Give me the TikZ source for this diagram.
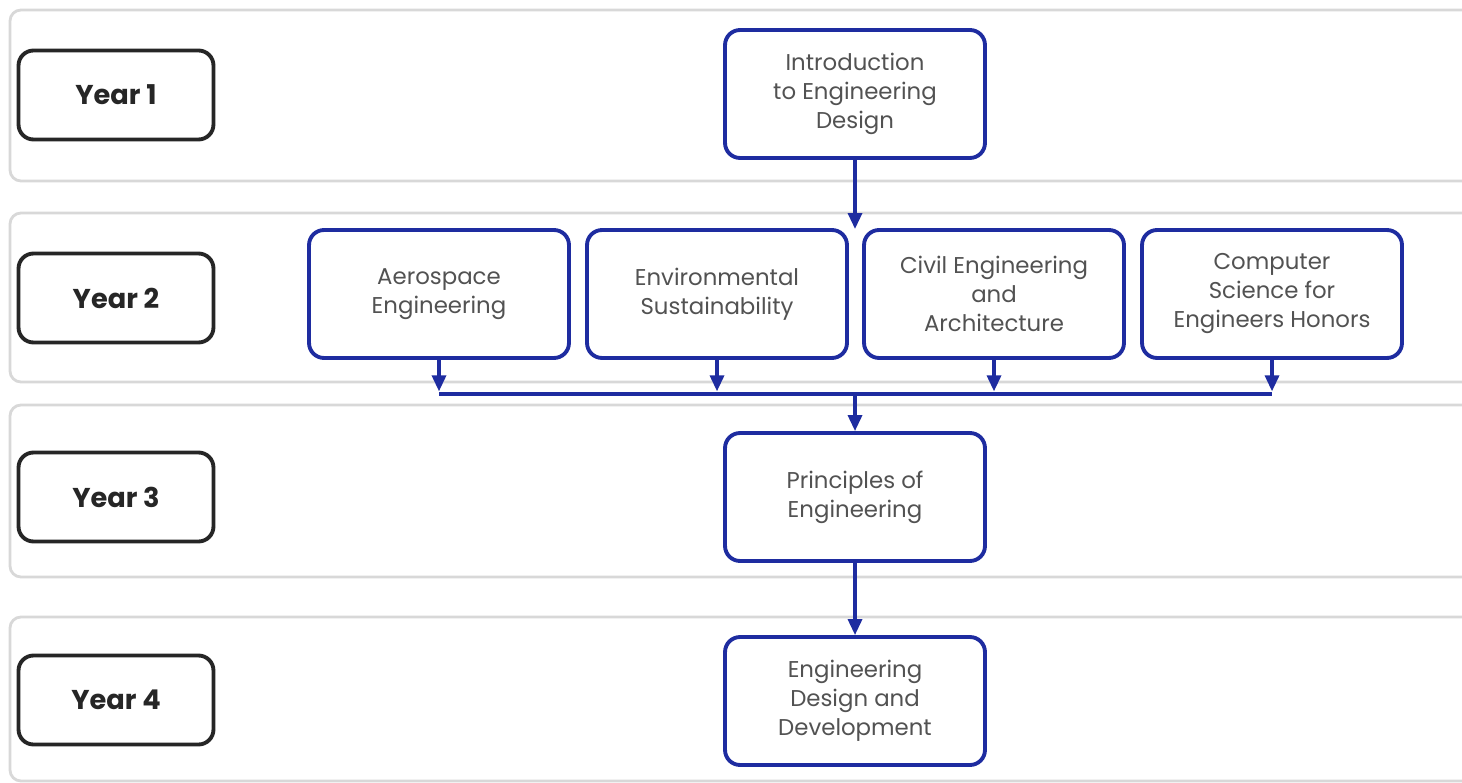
\documentclass[tikz,border=0pt]{standalone}
\usepackage{fontspec}
\setmainfont{Poppins}
\usetikzlibrary{positioning, arrows.meta}
\definecolor{navy}{RGB}{30,44,160}
\definecolor{bandgray}{RGB}{216,216,216}
\definecolor{ink}{RGB}{38,38,38}
\definecolor{slate}{RGB}{82,82,82}

\begin{document}
\begin{tikzpicture}[
  x=0.02cm, y=-0.02cm,
  yearband/.style={draw=bandgray, line width=1.6pt, rounded corners=0.22cm, fill=white},
  yearbox/.style={
    draw=ink, line width=2.2pt, rounded corners=0.3cm,
    minimum width=3.9cm, minimum height=1.78cm,
    text=ink, font=\fontsize{15.5}{17}\selectfont\bfseries,
  },
  course/.style={
    draw=navy, line width=2.2pt, rounded corners=0.3cm,
    minimum width=5.2cm, minimum height=2.56cm,
    align=center, text=slate, font=\fontsize{13}{16.5}\selectfont,
  },
  flow/.style={draw=navy, line width=1.9pt, -{Triangle[length=3.2mm,width=2.8mm]}},
]
\useasboundingbox (0,0) rectangle (1462,783);
\clip (0,0) rectangle (1462,783);

% bands
\draw[yearband] (10,10) rectangle (1490,181);
\draw[yearband] (10,213) rectangle (1490,382);
\draw[yearband] (10,405) rectangle (1490,577);
\draw[yearband] (10,617) rectangle (1490,781);

% years
\node[yearbox] (y1) at (116,95) {Year 1};
\node[yearbox] (y2) at (116,298) {Year 2};
\node[yearbox] (y3) at (116,497) {Year 3};
\node[yearbox] (y4) at (116,700) {Year 4};

% courses
\node[course] (ied) at (855,94) {Introduction\\to Engineering\\Design};
\node[course] (aero) at (439,294) {Aerospace\\Engineering};
\node[course] (env) at (717,294) {Environmental\\Sustainability};
\node[course] (civil) at (994,294) {Civil Engineering\\and\\Architecture};
\node[course] (cs) at (1272,294) {Computer\\Science for\\Engineers Honors};
\node[course] (poe) at (855,497) {Principles of\\Engineering};
\node[course] (edd) at (855,701) {Engineering\\Design and\\Development};

\coordinate (split) at (855,229);
\coordinate (busL) at (439,394);
\coordinate (busR) at (1272,394);
\coordinate (merge) at (855,394);

\draw[flow] (ied.south) -- (split);
\draw[navy, line width=1.9pt] (busL) -- (busR);
\foreach \c in {aero,env,civil,cs}
  \draw[flow, shorten >=1.5pt] (\c.south) -- (\c.south |- busL);
\draw[flow] (merge) -- (poe.north);
\draw[flow] (poe.south) -- (edd.north);

\end{tikzpicture}
\end{document}
